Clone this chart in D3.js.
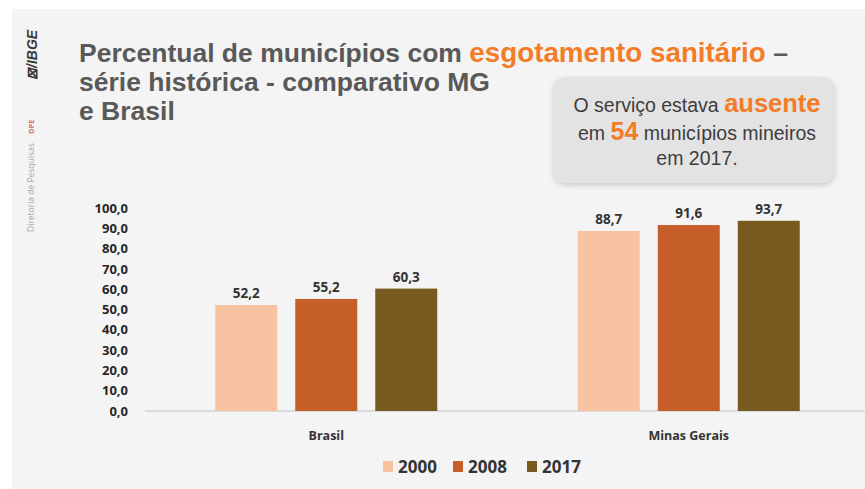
<!DOCTYPE html>
<html lang="pt">
<head>
    <meta charset="UTF-8">
    <title>Esgotamento sanitário</title>
    <script src="https://cdn.jsdelivr.net/npm/d3@7"></script>
    <style>
        body{margin: 0; background: #fff}
        svg text{font-family: "Open Sans", sans-serif}
        svg .title{font-family: "Liberation Sans", Arial, sans-serif; font-weight: bold; font-size: 26.5px; fill: #595959}
        svg .hl{fill: #f47c26}
        svg .note{font-family: "Liberation Sans", Arial, sans-serif; font-size: 19.5px; fill: #3d3d3d}
        svg .tick text{font-weight: bold; font-size: 13px; fill: #262626}
        svg .val{font-weight: bold; font-size: 13.5px; fill: #333}
        svg .cat{font-weight: bold; font-size: 12.5px; fill: #333}
        svg .leg{font-weight: bold; font-size: 17px; fill: #333}
    </style>
</head>
<body>
    <svg></svg>
    <script>
        var categories = ['Brasil', 'Minas Gerais']
        var years = ['2000', '2008', '2017']
        var values2000 = [52.2, 88.7]
        var values2008 = [55.2, 91.6]
        var values2017 = [60.3, 93.7]
        var yTicks = [0, 10, 20, 30, 40, 50, 60, 70, 80, 90, 100]
        var colors = ['#f7c3a0', '#c65e29', '#775a1f']

        var series = [values2000, values2008, values2017]

        function render() {
            var width = 865, height = 489
            var svg = d3.select('svg')
                .html('')
                .attr('width', width)
                .attr('height', height)

            // shadow for the note box
            var defs = svg.append('defs')
            var f = defs.append('filter').attr('id', 'shadow').attr('x', '-10%').attr('y', '-10%').attr('width', '120%').attr('height', '130%')
            f.append('feDropShadow').attr('dx', 0).attr('dy', 2).attr('stdDeviation', 2.5).attr('flood-color', '#000').attr('flood-opacity', 0.18)

            // slide panel
            svg.append('rect')
                .attr('x', 12).attr('y', 9)
                .attr('width', width - 12).attr('height', height - 9)
                .attr('fill', '#f4f4f4')

            // left brand strip
            var strip = svg.append('g')
            strip.append('text')
                .attr('transform', 'translate(37,80) rotate(-90)')
                .style('font-family', '"Liberation Sans", Arial, sans-serif')
                .style('font-weight', 'bold').style('font-style', 'italic')
                .style('font-size', '14px').attr('fill', '#3a3a3a')
                .text('⊠/IBGE')
            strip.append('text')
                .attr('transform', 'translate(34,134) rotate(-90)')
                .style('font-size', '7.5px').style('font-weight', 'bold')
                .attr('fill', '#e06767')
                .text('DPE')
            strip.append('text')
                .attr('transform', 'translate(34,232) rotate(-90)')
                .style('font-size', '8.5px')
                .attr('fill', '#a9a9a9')
                .text('Diretoria de Pesquisas')

            // title
            var title = svg.append('text').attr('class', 'title')
            var l1 = title.append('tspan').attr('x', 79).attr('y', 62)
            l1.append('tspan').text('Percentual de municípios com ')
            l1.append('tspan').attr('class', 'hl').style('font-size', '27.8px').text('esgotamento sanitário')
            l1.append('tspan').text(' –')
            title.append('tspan').attr('x', 79).attr('y', 91).text('série histórica - comparativo MG')
            title.append('tspan').attr('x', 79).attr('y', 120).text('e Brasil')

            // note box
            svg.append('rect')
                .attr('x', 553).attr('y', 77)
                .attr('width', 282).attr('height', 106)
                .attr('rx', 13)
                .attr('fill', '#e3e3e3')
                .attr('filter', 'url(#shadow)')
            var note = svg.append('text').attr('class', 'note').attr('text-anchor', 'middle')
            var n1 = note.append('tspan').attr('x', 697).attr('y', 112)
            n1.append('tspan').text('O serviço estava ')
            n1.append('tspan').attr('class', 'hl').style('font-weight', 'bold').style('font-size', '25.5px').text('ausente')
            var n2 = note.append('tspan').attr('x', 697).attr('y', 140)
            n2.append('tspan').text('em ')
            n2.append('tspan').attr('class', 'hl').style('font-weight', 'bold').style('font-size', '25px').text('54')
            n2.append('tspan').text(' municípios mineiros')
            note.append('tspan').attr('x', 697).attr('y', 165).text('em 2017.')

            // scales
            var x0 = d3.scaleBand()
                .domain(categories)
                .range([145, 870])
            var x1 = d3.scaleBand()
                .domain(years)
                .range([0, 222])
                .paddingInner(0.225)
            var yScale = d3.scaleLinear()
                .domain([0, 100])
                .range([411, 208])

            // y axis
            var yAxis = d3.axisLeft(yScale)
                .tickValues(yTicks)
                .tickSize(0)
                .tickPadding(0)
                .tickFormat(d => d3.format('.1f')(d).replace('.', ','))
            svg.append('g')
                .attr('transform', 'translate(128,0)')
                .call(yAxis)
                .call(g => g.select('.domain').remove())

            // baseline
            svg.append('line')
                .attr('x1', 145).attr('x2', 865)
                .attr('y1', yScale(0)).attr('y2', yScale(0))
                .attr('stroke', '#d3d3d3')
                .attr('stroke-width', 1.5)

            // bars
            var groups = svg.selectAll('.grp')
                .data(categories)
                .enter()
                .append('g')
                .attr('class', 'grp')
                .attr('transform', c => `translate(${x0(c) + x0.bandwidth() / 2 - 111},0)`)

            groups.selectAll('rect')
                .data((c, ci) => years.map((yr, i) => ({year: yr, value: series[i][ci], color: colors[i]})))
                .enter()
                .append('rect')
                .attr('x', d => x1(d.year))
                .attr('width', x1.bandwidth())
                .attr('y', d => yScale(d.value))
                .attr('height', d => yScale(0) - yScale(d.value))
                .attr('fill', d => d.color)

            groups.selectAll('.val')
                .data((c, ci) => years.map((yr, i) => ({year: yr, value: series[i][ci]})))
                .enter()
                .append('text')
                .attr('class', 'val')
                .attr('text-anchor', 'middle')
                .attr('x', d => x1(d.year) + x1.bandwidth() / 2)
                .attr('y', d => yScale(d.value) - 7)
                .text(d => d3.format('.1f')(d.value).replace('.', ','))

            // category labels
            svg.selectAll('.cat')
                .data(categories)
                .enter()
                .append('text')
                .attr('class', 'cat')
                .attr('text-anchor', 'middle')
                .attr('x', c => x0(c) + x0.bandwidth() / 2)
                .attr('y', 440)
                .text(c => c)

            // legend
            var legX = [383, 453, 527]
            var leg = svg.selectAll('.legitem')
                .data(years)
                .enter()
                .append('g')
                .attr('transform', (d, i) => `translate(${legX[i]},461)`)
            leg.append('rect')
                .attr('width', 10).attr('height', 11)
                .attr('fill', (d, i) => colors[i])
            leg.append('text')
                .attr('class', 'leg')
                .attr('x', 15)
                .attr('y', 12)
                .text(d => d)
        }

        render()
    </script>
</body>
</html>
